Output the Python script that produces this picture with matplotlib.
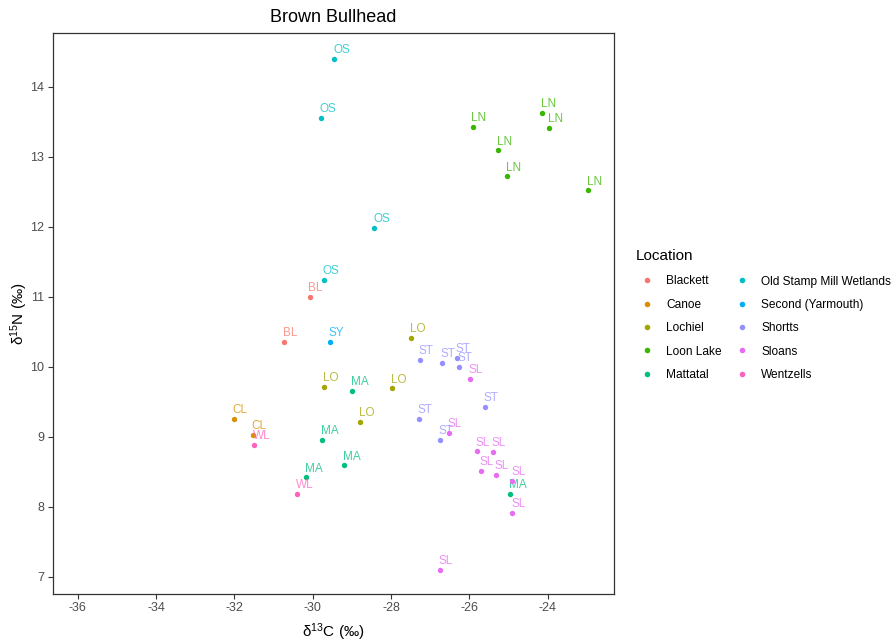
import matplotlib
matplotlib.use("Agg")
import matplotlib.pyplot as plt
from matplotlib.lines import Line2D

plt.rcParams["font.family"] = ["Liberation Sans", "DejaVu Sans"]
plt.rcParams["mathtext.fontset"] = "custom"
plt.rcParams["mathtext.rm"] = "Liberation Sans"
plt.rcParams["mathtext.it"] = "Liberation Sans:italic"

# Location names, short codes and hue colours
locations = ["Blackett", "Canoe", "Lochiel", "Loon Lake", "Mattatal",
             "Old Stamp Mill Wetlands", "Second (Yarmouth)", "Shortts",
             "Sloans", "Wentzells"]
codes = ["BL", "CL", "LO", "LN", "MA", "OS", "SY", "ST", "SL", "WL"]
colors = ["#F8766D", "#D89000", "#A3A500", "#39B600", "#00BF7D",
          "#00BFC4", "#00B0F6", "#9590FF", "#E76BF3", "#FF62BC"]

# d13C and d15N values per location
bl_c = [-30.08, -30.74]
bl_n = [11.00, 10.36]
cl_c = [-32.01, -31.53]
cl_n = [9.25, 9.03]
lo_c = [-27.49, -29.72, -27.97, -28.78]
lo_n = [10.41, 9.71, 9.69, 9.21]
ln_c = [-24.14, -23.96, -25.92, -25.28, -25.05, -22.97]
ln_n = [13.63, 13.41, 13.43, 13.09, 12.72, 12.52]
ma_c = [-28.99, -29.75, -30.18, -29.19, -24.96]
ma_n = [9.66, 8.95, 8.42, 8.59, 8.18]
os_c = [-29.45, -29.80, -28.43, -29.72]
os_n = [14.40, 13.56, 11.98, 11.24]
sy_c = [-29.57]
sy_n = [10.36]
st_c = [-27.26, -26.70, -26.32, -26.27, -25.61, -27.29, -26.75]
st_n = [10.10, 10.06, 10.13, 10.00, 9.43, 9.26, 8.95]
sl_c = [-25.99, -26.52, -25.81, -25.41, -25.71, -25.33, -24.91, -24.91, -26.76]
sl_n = [9.83, 9.06, 8.79, 8.78, 8.51, 8.46, 8.37, 7.91, 7.10]
wl_c = [-31.50, -30.41]
wl_n = [8.88, 8.18]

carbon = [bl_c, cl_c, lo_c, ln_c, ma_c, os_c, sy_c, st_c, sl_c, wl_c]
nitrogen = [bl_n, cl_n, lo_n, ln_n, ma_n, os_n, sy_n, st_n, sl_n, wl_n]

x_ticks = [-36, -34, -32, -30, -28, -26, -24]
y_ticks = [7, 8, 9, 10, 11, 12, 13, 14]

fig = plt.figure(figsize=(8.93, 6.42), dpi=100)
ax = fig.add_axes([52.7 / 893, 1 - 594 / 642, (614 - 52.7) / 893, (594 - 33.3) / 642])

handles = []
for name, code, col, xs, ys in zip(locations, codes, colors, carbon, nitrogen):
    ax.scatter(xs, ys, s=15, color=col, linewidths=0, zorder=3)
    for xv, yv in zip(xs, ys):
        ax.annotate(code, (xv, yv), xytext=(-0.8, 2.0), textcoords="offset points",
                    ha="left", va="bottom", fontsize=8.5, color=col, alpha=0.75)
    handles.append(Line2D([], [], marker="o", linestyle="none", markersize=4,
                          markerfacecolor=col, markeredgewidth=0, label=name))

ax.set_xlim(-36.635, -22.31)
ax.set_ylim(6.753, 14.763)
ax.set_xticks(x_ticks)
ax.set_yticks(y_ticks)
ax.set_xticklabels([str(v) for v in x_ticks])
ax.tick_params(axis="both", direction="out", length=3.5, width=0.8,
               color="#333333", labelsize=9, labelcolor="#4D4D4D", pad=2.5)
for sp in ax.spines.values():
    sp.set_color("#333333")
    sp.set_linewidth(0.9)

ax.set_xlabel(r"$\mathrm{\delta}^{13}$C (‰)", fontsize=11, labelpad=5)
ax.set_ylabel(r"$\mathrm{\delta}^{15}$N (‰)", fontsize=11, labelpad=0)
ax.set_title("Brown Bullhead", fontsize=13, pad=8)

leg = fig.legend(handles=handles, title="Location", ncol=2, frameon=False,
                 loc="upper left", bbox_to_anchor=(636 / 893, 1 - 249 / 642),
                 fontsize=8.6, title_fontsize=11, alignment="left",
                 handlelength=1.84, handletextpad=0.67, columnspacing=0.8,
                 labelspacing=0.95, borderpad=0, borderaxespad=0)
leg._legend_box.sep = 9

fig.savefig("out.png", dpi=100)
